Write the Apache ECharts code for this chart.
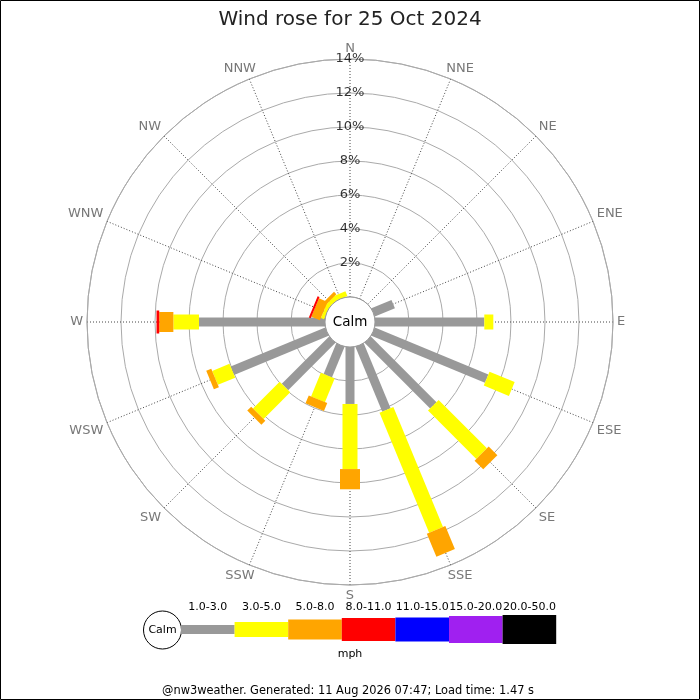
<!DOCTYPE html>
<html><head><meta charset="utf-8">
<script src="https://cdn.jsdelivr.net/npm/echarts@6/dist/echarts.min.js"></script>
<style>html,body{margin:0;padding:0;background:#fff}#c{width:700px;height:700px}</style>
</head><body><div id="c"></div>
<script>
// ---- data ----
const directions = ['N','NNE','NE','ENE','E','ESE','SE','SSE','S','SSW','SW','WSW','W','WNW','NW','NNW'];
const speedClasses = ['1.0-3.0','3.0-5.0','5.0-8.0','8.0-11.0','11.0-15.0','15.0-20.0','20.0-50.0'];
const radiusTicks = [0,2,4,6,8,10,12,14];
// percent of time per direction, per speed class (mph)
const spd1to3   = [0,0,0,1.28,6.43,7.23,5.46,4.13,3.35,1.95,3.94,6.02,7.41,0,0,0];
const spd3to5   = [0,0,0,0,0.53,1.60,4.02,7.63,3.83,1.50,2.22,1.10,1.51,0.20,0.25,0.30];
const spd5to8   = [0,0,0,0,0,0,0.72,1.47,1.19,0.50,0.33,0.32,0.83,0.55,0.20,0];
const spd8to11  = [0,0,0,0,0,0,0,0,0,0,0,0,0.16,0.12,0,0];
const spd11to15 = [0,0,0,0,0,0,0,0,0,0,0,0,0,0,0,0];
const spd15to20 = [0,0,0,0,0,0,0,0,0,0,0,0,0,0,0,0];
const spd20to50 = [0,0,0,0,0,0,0,0,0,0,0,0,0,0,0,0];

// ---- styles ----
const classValues = [spd1to3, spd3to5, spd5to8, spd8to11, spd11to15, spd15to20, spd20to50];
const classColors = ['#999999','#ffff00','#ffa500','#ff0000','#0000ff','#a020f0','#000000'];
const barWidths = [9, 15, 20, 23, 24, 27, 29];
const FONT = 'DejaVu Sans';
const CX = 350, CY = 322, R0 = 25, R1 = 263;
const RMAX = radiusTicks[radiusTicks.length - 1];

function makeRender(w, color) {
  return function (params, api) {
    const cs = params.coordSys;
    const a = api.value(0), r0 = api.value(1), r1 = api.value(2);
    const p0 = api.coord([r0, a]), p1 = api.coord([r1, a]);
    const ux = p1[0] - cs.cx, uy = p1[1] - cs.cy;
    const len = Math.sqrt(ux * ux + uy * uy) || 1;
    const nx = -uy / len * w / 2, ny = ux / len * w / 2;
    return {
      type: 'polygon',
      shape: { points: [[p0[0] + nx, p0[1] + ny], [p1[0] + nx, p1[1] + ny], [p1[0] - nx, p1[1] - ny], [p0[0] - nx, p0[1] - ny]] },
      style: { fill: color }
    };
  };
}

const cum = directions.map(() => 0);
const series = classValues.map((vals, k) => {
  const data = [];
  vals.forEach((v, i) => {
    if (v > 0) data.push([i * 22.5, cum[i], cum[i] + v]);
    cum[i] += v;
  });
  return {
    type: 'custom', coordinateSystem: 'polar', name: speedClasses[k],
    data: data, encode: { angle: 0, radius: [1, 2] },
    renderItem: makeRender(barWidths[k], classColors[k]),
    z: 3 + k, silent: true
  };
});

// radius tick labels along the N line
series.push({
  type: 'scatter', coordinateSystem: 'polar', symbolSize: 0, silent: true, z: 20,
  itemStyle: { color: 'transparent' },
  data: radiusTicks.filter(v => v > 0).map(v => [v, 0]),
  label: { show: true, position: 'inside', formatter: p => p.value[0] + '%', color: '#000', textBorderWidth: 0, fontFamily: FONT, fontSize: 13 }
});

// direction labels just outside the outer ring
series.push({
  type: 'scatter', coordinateSystem: 'polar', symbolSize: 0, silent: true, z: 20,
  itemStyle: { color: 'transparent' },
  data: directions.map((d, i) => {
    const th = i * 22.5 * Math.PI / 180;
    const sx = Math.sin(th), sy = -Math.cos(th);
    let align = 'center', valign = 'middle', ox = 4 * sx, oy = 4 * sy;
    if (sx > 0.5) align = 'left'; else if (sx < -0.5) align = 'right';
    else if (Math.abs(sx) > 0.1) ox += (sx > 0 ? 8 : -8);
    if (sy > 0.3) valign = 'top'; else if (sy < -0.3) valign = 'bottom';
    return { value: [RMAX, i * 22.5], name: d,
      label: { align: align, verticalAlign: valign, offset: [ox, oy] } };
  }),
  label: { show: true, position: 'inside', formatter: p => p.name, color: '#555', textBorderWidth: 0, fontFamily: FONT, fontSize: 13 }
});

// legend graphics
const graphic = [];
graphic.push({ type: 'rect', shape: { x: 0.5, y: 0.5, width: 699, height: 699 }, style: { fill: null, stroke: '#000', lineWidth: 1 }, z: 200 });
graphic.push({ type: 'circle', shape: { cx: CX, cy: CY, r: R0 }, style: { fill: '#fff', stroke: '#999', lineWidth: 1 }, z: 100 });
graphic.push({ type: 'text', x: CX, y: CY, style: { text: 'Calm', fill: '#000', font: '13.5px "' + FONT + '"', align: 'center', verticalAlign: 'middle' }, z: 101 });
const LX0 = 181, LW = 53.6, LCY = 629.5;
graphic.push({ type: 'circle', shape: { cx: 162.5, cy: 630, r: 19 }, style: { fill: '#fff', stroke: '#000', lineWidth: 1 }, z: 100 });
graphic.push({ type: 'text', x: 162.5, y: 630, style: { text: 'Calm', fill: '#000', font: '11px "' + FONT + '"', align: 'center', verticalAlign: 'middle' }, z: 101 });
speedClasses.forEach((lab, k) => {
  const x = LX0 + k * LW;
  graphic.push({ type: 'rect', shape: { x: x, y: LCY - barWidths[k] / 2, width: LW, height: barWidths[k] }, style: { fill: classColors[k] }, z: 100 });
  graphic.push({ type: 'text', x: x + LW / 2, y: 607, style: { text: lab, fill: '#000', font: '11px "' + FONT + '"', align: 'center', verticalAlign: 'middle' }, z: 101 });
});
graphic.push({ type: 'text', x: 350, y: 654, style: { text: 'mph', fill: '#000', font: '11px "' + FONT + '"', align: 'center', verticalAlign: 'middle' }, z: 101 });
graphic.push({ type: 'text', x: 348, y: 691, style: { text: '@nw3weather. Generated: 11 Aug 2026 07:47; Load time: 1.47 s', fill: '#000', font: '11.4px "' + FONT + '"', align: 'center', verticalAlign: 'middle' }, z: 101 });

const chart = echarts.init(document.getElementById('c'), null, { renderer: 'canvas' });
chart.setOption({
  animation: false,
  backgroundColor: '#fff',
  textStyle: { fontFamily: FONT },
  title: { text: 'Wind rose for 25 Oct 2024', left: 'center', top: 5, textStyle: { fontFamily: FONT, fontSize: 20, fontWeight: 'normal', color: '#222' } },
  polar: { center: [CX, CY], radius: [R0, R1] },
  angleAxis: {
    type: 'value', min: 0, max: 360, interval: 22.5, startAngle: 90, clockwise: true,
    axisLine: { show: true, lineStyle: { color: '#aaa', width: 1 } },
    axisTick: { show: false },
    axisLabel: { show: false },
    splitLine: { show: true, lineStyle: { color: '#444', width: 1, type: [1, 2] } }
  },
  radiusAxis: {
    type: 'value', min: 0, max: RMAX, interval: 2,
    axisLine: { show: false }, axisTick: { show: false }, axisLabel: { show: false },
    splitLine: { show: true, lineStyle: { color: '#aaa', width: 1 } }
  },
  graphic: graphic,
  series: series
});
</script></body></html>
